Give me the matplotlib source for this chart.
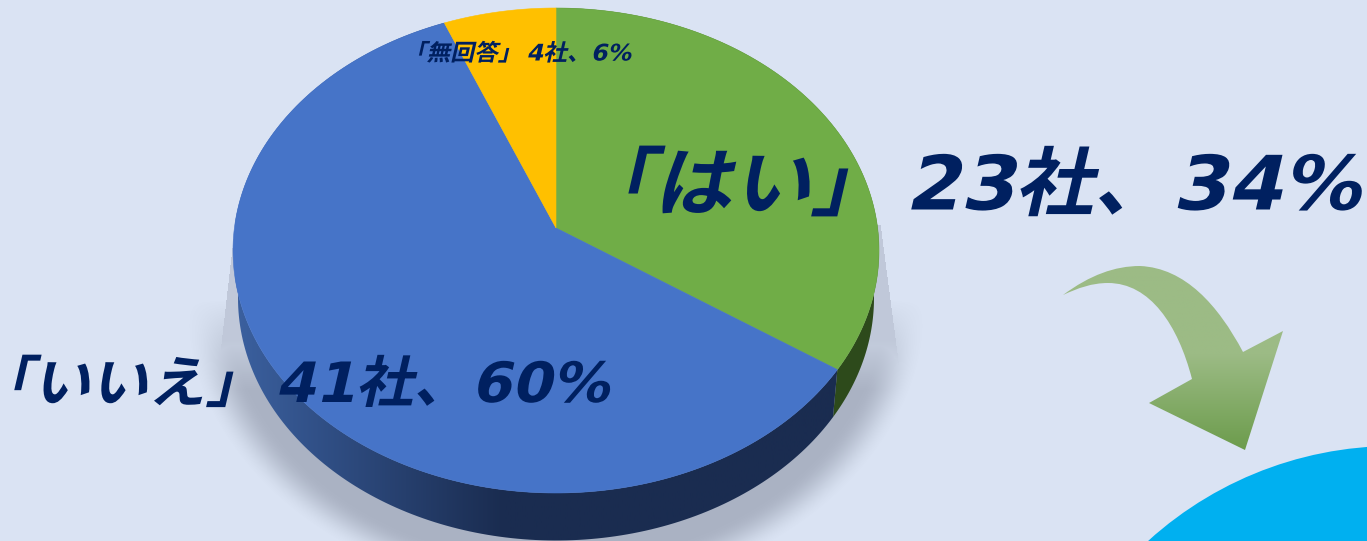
"""
Recreates the 3D pie of company answers (はい / いいえ / 無回答) on a pale blue panel.
"""

import numpy as np
import matplotlib
matplotlib.use("Agg")
import matplotlib.pyplot as plt
from matplotlib.colors import LinearSegmentedColormap
from matplotlib.patches import Circle, PathPatch, Polygon
from matplotlib.path import Path
from matplotlib.patheffects import AbstractPathEffect
from matplotlib.transforms import Affine2D

PLOT_FILE = "out.png"

# Data
ANSWERS = ["はい", "無回答", "いいえ"]
COMPANIES = [23, 4, 41]
PERCENTS = [34, 6, 60]

# Colours
BG = "#dae3f3"
TEXT = "#002060"
TOP_COLORS = ["#70ad47", "#ffc000", "#4674c8"]
GREEN_SIDE = "#2d4a1b"

# Pie geometry, pixels
CX, TOP_CY, TOP_RX, RY = 556, 250.5, 323, 242.5
BOT_CY, BOT_RX = 298, 318
APEX_Y = 228
PERSP_Y = 239
PERSP = -0.0474
PERSP_A = 230.6


class Slant(AbstractPathEffect):
    """Draws the text outlines sheared and stretched, for the wide italic look."""

    def __init__(self, x0, y0, skew, stretch, dx=0):
        super().__init__()
        self.x0, self.y0, self.skew, self.stretch, self.dx = x0, y0, skew, stretch, dx

    def draw_path(self, renderer, gc, tpath, affine, rgbFace=None):
        shear = (Affine2D().translate(-self.x0, -self.y0)
                 .scale(self.stretch, 1).skew_deg(self.skew, 0)
                 .translate(self.x0 + self.dx, self.y0))
        renderer.draw_path(gc, tpath, affine + shear, rgbFace)


def ellipse_angle(theta):
    """Clockwise angle on the drawn ellipse for a true pie angle (perspective)."""
    y = -np.cos(theta)
    screen_y = (PERSP_A * y + PERSP_Y) / (PERSP * y + 1)
    cos_phi = np.clip((TOP_CY - screen_y) / RY, -1, 1)
    phi = 0.0 if cos_phi > 0.999 else np.arccos(cos_phi)
    return phi if np.sin(theta) >= 0 else 2 * np.pi - phi


def rim(phi, cy, rx):
    return CX + rx * np.sin(phi), cy - RY * np.cos(phi)


def draw_shadow(ax):
    xx, yy = np.meshgrid(np.arange(1367) + 0.5, np.arange(541) + 0.5)
    dist = (np.sqrt(((xx - CX) / 350) ** 2 + ((yy - 300) / 280) ** 2) - 1) * 300
    soft = np.clip((20 - dist) / 40, 0, 1)
    soft = soft * soft * (3 - 2 * soft)
    soft = soft * np.clip((yy - 300) / 90, 0, 1)

    left = 234 - (yy - 235) * 19 / 165
    right = 880 + (yy - 220) * 21 / 160
    inside = (xx > left) & (xx < right) & (yy > 225)
    wedge = inside * np.clip((400 - yy) / 60, 0, 1) * 0.55

    alpha = 0.37 * np.maximum(soft, wedge)
    image = np.zeros(alpha.shape + (4,))
    image[..., :3] = (0.35, 0.38, 0.45)
    image[..., 3] = alpha
    ax.imshow(image, extent=(0, 1367, 541, 0), aspect="auto", zorder=1)


def draw_gradient(ax, clip_patch, extent, stops, vertical, zorder):
    cmap = LinearSegmentedColormap.from_list("g", stops)
    ramp = np.linspace(0, 1, 256)
    ramp = ramp[:, None] if vertical else ramp[None, :]
    image = ax.imshow(ramp, cmap=cmap, extent=extent, aspect="auto", zorder=zorder)
    ax.add_patch(clip_patch)
    image.set_clip_path(clip_patch)


def draw_pie(ax):
    total = sum(COMPANIES)
    # Slices in the picture run clockwise from 12 o'clock: green, blue, yellow
    order = [0, 2, 1]
    start = 0.0
    for i in order:
        stop = start + 2 * np.pi * COMPANIES[i] / total
        phi0, phi1 = ellipse_angle(start), ellipse_angle(stop - 1e-6)
        phi = np.linspace(phi0, phi1, 200)
        tx, ty = rim(phi, TOP_CY, TOP_RX)
        bx, by = rim(phi, BOT_CY, BOT_RX)

        side = np.column_stack([np.r_[tx, bx[::-1]], np.r_[ty, by[::-1]]])
        if ANSWERS[i] == "はい":
            ax.fill(side[:, 0], side[:, 1], color=GREEN_SIDE, lw=0, zorder=2)
        elif ANSWERS[i] == "いいえ":
            patch = Polygon(side, closed=True, fc="none", ec="none")
            draw_gradient(ax, patch, (235, 845, 541, 0),
                          [(0, "#3b609f"), (0.44, "#1a2c50"), (1, "#1a2c50")], False, 2)

        ax.fill(np.r_[CX, tx], np.r_[APEX_Y, ty], color=TOP_COLORS[i], lw=0.4, zorder=3)
        start = stop


def draw_arrow(ax):
    verts = [(1063, 295), (1090, 275), (1115, 266), (1140, 266),
             (1185, 268), (1218, 305), (1243, 352),
             (1283, 331), (1245, 450), (1149, 403), (1192, 379),
             (1178, 325), (1150, 283), (1108, 283),
             (1092, 283), (1078, 288), (1063, 295)]
    codes = [Path.MOVETO, Path.CURVE4, Path.CURVE4, Path.CURVE4,
             Path.CURVE4, Path.CURVE4, Path.CURVE4,
             Path.LINETO, Path.LINETO, Path.LINETO, Path.LINETO,
             Path.CURVE4, Path.CURVE4, Path.CURVE4,
             Path.CURVE4, Path.CURVE4, Path.CURVE4]
    patch = PathPatch(Path(verts, codes), fc="none", ec="none")
    draw_gradient(ax, patch, (1060, 1290, 450, 266),
                  [(0, "#9cbb85"), (0.48, "#9cbb85"), (1, "#6c9c4c")], True, 4)


def draw_label(ax, index, x, y, size, stretch, dx=0):
    text = f"「{ANSWERS[index]}」\u2009{COMPANIES[index]}社、{PERCENTS[index]}%"
    label = ax.text(x, y, text, fontsize=size, color=TEXT, weight="bold",
                    ha="left", va="center", zorder=6,
                    family=["DejaVu Sans", "Noto Sans CJK JP"])
    px, py = ax.transData.transform((x, y))
    label.set_path_effects([Slant(px, py, 13, stretch, dx)])


def plot_pie():
    fig = plt.figure(figsize=(13.67, 5.41), dpi=100, facecolor=BG)
    ax = fig.add_axes([0, 0, 1, 1])
    ax.set_facecolor(BG)

    draw_shadow(ax)
    draw_pie(ax)
    draw_arrow(ax)
    ax.add_patch(Circle((1394, 812), 366, fc="#00b0f0", ec="none", zorder=5))

    ax.set_xlim(0, 1367)
    ax.set_ylim(541, 0)
    ax.axis("off")

    draw_label(ax, 0, 579, 189, 54, 1.05)
    draw_label(ax, 2, 2, 387, 40, 1.04, dx=-24)
    draw_label(ax, 1, 404, 54, 16.5, 1.04)

    fig.savefig(PLOT_FILE, dpi=100, facecolor=BG)


if __name__ == "__main__":
    plot_pie()
